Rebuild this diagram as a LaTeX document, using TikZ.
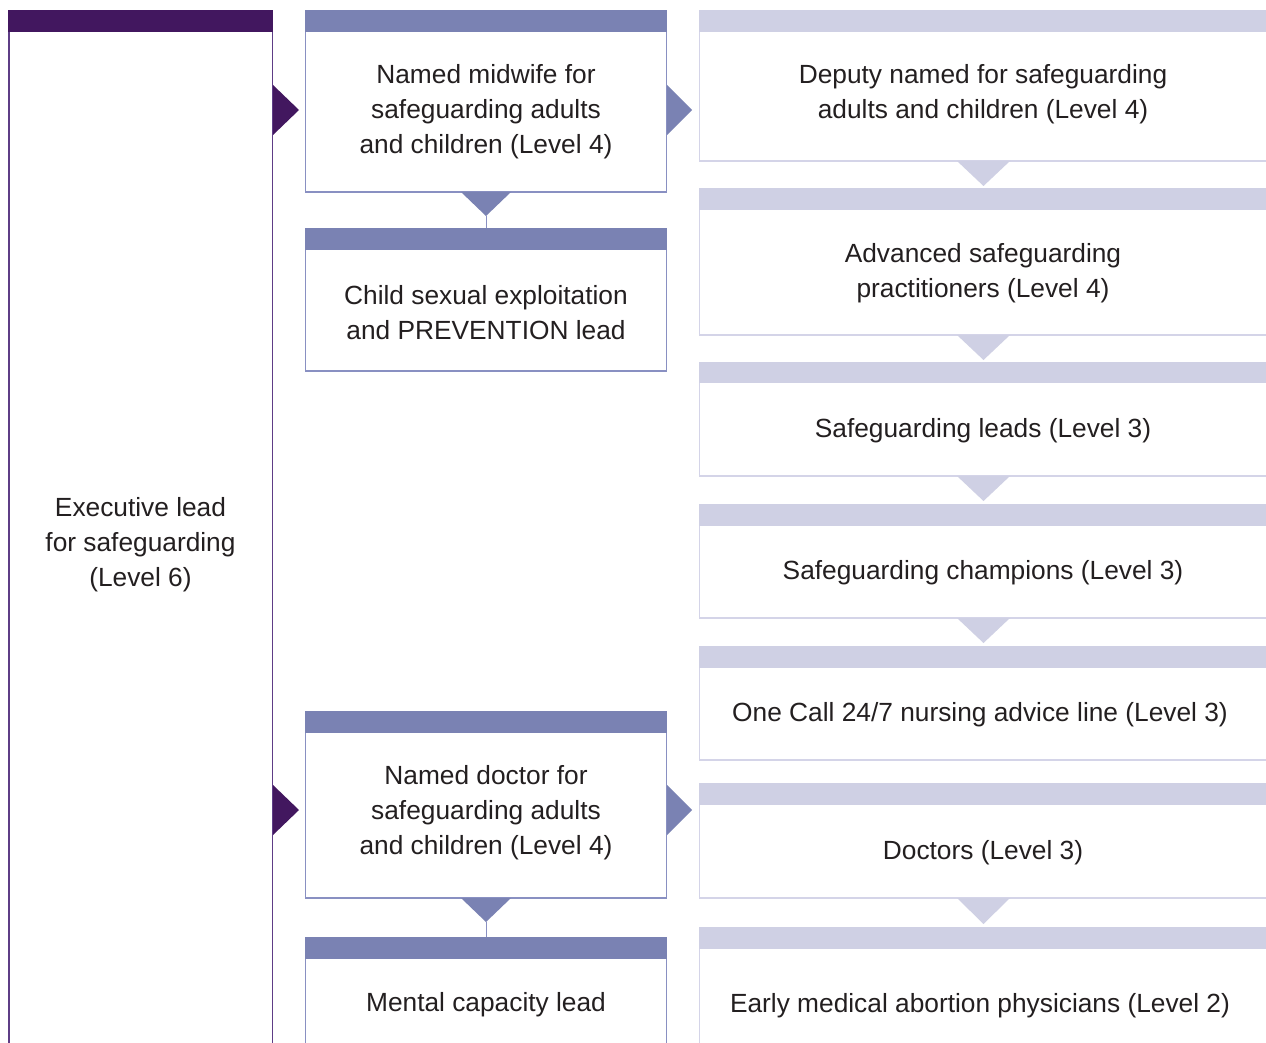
\documentclass[tikz,border=0pt]{standalone}
\usepackage{fontspec}
\setmainfont{Liberation Sans}
\definecolor{darkpurple}{HTML}{42175F}
\definecolor{leftline}{HTML}{5E3D86}
\definecolor{midhead}{HTML}{7A82B3}
\definecolor{midline}{HTML}{8990C2}
\definecolor{righthead}{HTML}{CFD0E4}
\definecolor{rightline}{HTML}{D4D4E8}
\definecolor{textgray}{HTML}{231F20}
\begin{document}
\begin{tikzpicture}[x=1pt,y=-1pt,
  txt/.style={font=\fontsize{26.3}{35}\selectfont, text=textgray, align=center, inner sep=0pt},
  lhead/.style={fill=darkpurple},
  mhead/.style={fill=midhead},
  rhead/.style={fill=righthead},
  lborder/.style={draw=leftline, line width=1.6pt},
  mborder/.style={draw=midline, line width=1.3pt},
  rborder/.style={draw=rightline, line width=1.3pt},
  mtri/.style={fill=midhead},
  rtri/.style={fill=righthead},
  ptri/.style={fill=darkpurple}]
\useasboundingbox (0,0) rectangle (1266,1043);
\fill[white] (0,0) rectangle (1266,1043);

% ---------- left column ----------
\fill[lhead] (8,10) rectangle (273,32);
\draw[lborder] (9,32) -- (9,1043);
\draw[lborder] (272.5,32) -- (272.5,1043);
\node[txt] (exec) at (140.5,545) {Executive lead\\for safeguarding\\(Level 6)};

% ---------- middle column ----------
% midwife
\fill[mhead] (305,10) rectangle (667,32);
\draw[mborder] (305.6,32) -- (305.6,192) -- (666.4,192) -- (666.4,32);
\node[txt] (midwife) at (486,112) {Named midwife for\\safeguarding adults\\and children (Level 4)};
% cse
\fill[mhead] (305,228) rectangle (667,250);
\draw[mborder] (305.6,250) -- (305.6,371) -- (666.4,371) -- (666.4,250);
\node[txt] (cse) at (486,312.5) {Child sexual exploitation\\and PREVENTION lead};
% doctor
\fill[mhead] (305,711) rectangle (667,733);
\draw[mborder] (305.6,733) -- (305.6,898) -- (666.4,898) -- (666.4,733);
\node[txt] (doctor) at (486,813) {Named doctor for\\safeguarding adults\\and children (Level 4)};
% mental
\fill[mhead] (305,937) rectangle (667,959);
\draw[mborder] (305.6,959) -- (305.6,1043);
\draw[mborder] (666.4,959) -- (666.4,1043);
\node[txt] (mental) at (486,1004.5) {Mental capacity lead};

% down connectors middle
\coordinate (t1) at (486,216);
\coordinate (h1) at (486,228);
\fill[mtri] (461,192) -- (511,192) -- (t1) -- cycle;
\draw[midline, line width=1pt] (t1) -- (h1);
\coordinate (t2) at (486,922);
\coordinate (h2) at (486,937);
\fill[mtri] (461,898) -- (511,898) -- (t2) -- cycle;
\draw[midline, line width=1pt] (t2) -- (h2);

% left -> middle arrows
\fill[ptri] (273,85) -- (273,135) -- (299,110) -- cycle;
\fill[ptri] (273,785) -- (273,835) -- (299,810) -- cycle;
% middle -> right arrows
\fill[mtri] (667,85) -- (667,135) -- (692,110) -- cycle;
\fill[mtri] (667,785) -- (667,835) -- (692,810) -- cycle;

% ---------- right column ----------
% deputy
\fill[rhead] (699,10) rectangle (1266,32);
\draw[rborder] (699.6,32) -- (699.6,161) -- (1266,161);
\node[txt] (deputy) at (983,94.5) {Deputy named for safeguarding\\adults and children (Level 4)};
\fill[rtri] (957,161) -- (1010,161) -- (983.5,186) -- cycle;
% advanced
\fill[rhead] (699,188) rectangle (1266,210);
\draw[rborder] (699.6,210) -- (699.6,335) -- (1266,335);
\node[txt] (advanced) at (983,273.5) {Advanced safeguarding\\practitioners (Level 4)};
\fill[rtri] (957,335) -- (1010,335) -- (983.5,360) -- cycle;
% leads
\fill[rhead] (699,362) rectangle (1266,383);
\draw[rborder] (699.6,383) -- (699.6,476) -- (1266,476);
\node[txt] (leads) at (983,431) {Safeguarding leads (Level 3)};
\fill[rtri] (957,476) -- (1010,476) -- (983.5,501) -- cycle;
% champions
\fill[rhead] (699,504) rectangle (1266,526);
\draw[rborder] (699.6,526) -- (699.6,618) -- (1266,618);
\node[txt] (champions) at (983,573) {Safeguarding champions (Level 3)};
\fill[rtri] (957,618) -- (1010,618) -- (983.5,643) -- cycle;
% one call
\fill[rhead] (699,646) rectangle (1266,668);
\draw[rborder] (699.6,668) -- (699.6,760) -- (1266,760);
\node[txt] (onecall) at (980,715) {One Call 24/7 nursing advice line (Level 3)};
% doctors
\fill[rhead] (699,783) rectangle (1266,805);
\draw[rborder] (699.6,805) -- (699.6,898) -- (1266,898);
\node[txt] (doctors) at (983,853) {Doctors (Level 3)};
\fill[rtri] (957,898) -- (1010,898) -- (983.5,924) -- cycle;
% early
\fill[rhead] (699,927) rectangle (1266,949);
\draw[rborder] (699.6,949) -- (699.6,1043);
\node[txt] (early) at (980,1006) {Early medical abortion physicians (Level 2)};
\end{tikzpicture}
\end{document}
